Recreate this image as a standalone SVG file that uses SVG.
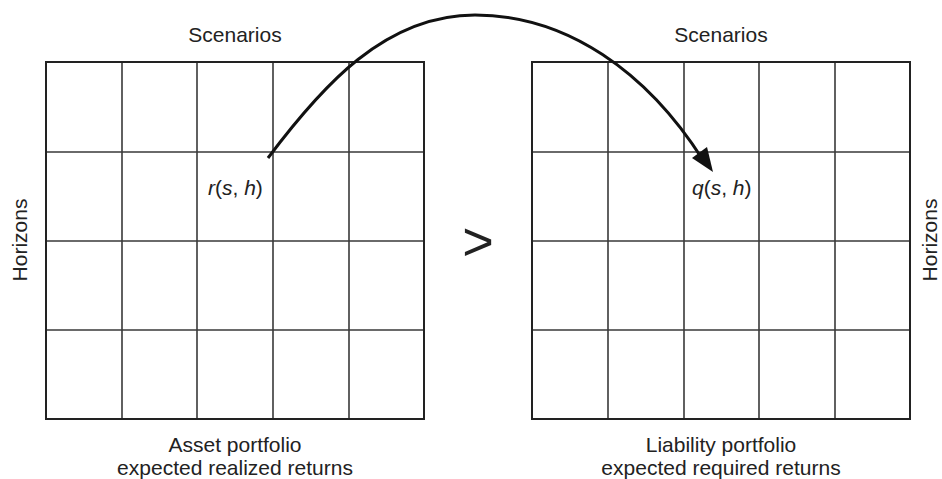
<svg xmlns="http://www.w3.org/2000/svg" width="942" height="479" viewBox="0 0 942 479">
<style>
.bg{fill:#fff}
.cell{fill:none;stroke:#3a3a3a;stroke-width:1.6}
.border{fill:none;stroke:#222;stroke-width:2}
.t{font-family:"Liberation Sans",Arial,sans-serif;font-size:21px;fill:#222}
.m{text-anchor:middle}
.conn{fill:none;stroke:#111;stroke-width:3}
.head{fill:#111}
</style>
<rect class="bg" x="0" y="0" width="942" height="479"/>
<g id="asset-grid">
  <path class="cell" d="M122,62V419M197,62V419M273,62V419M349,62V419M46,152H424M46,241H424M46,330H424"/>
  <rect class="border" x="46" y="62" width="378" height="357"/>
  <text class="t m" x="235" y="42">Scenarios</text>
  <text class="t m" transform="translate(27,240) rotate(-90)">Horizons</text>
  <text class="t" x="208" y="195"><tspan font-style="italic">r</tspan>(<tspan font-style="italic">s</tspan>, <tspan font-style="italic">h</tspan>)</text>
  <text class="t m" x="235" y="452">Asset portfolio</text>
  <text class="t m" x="235" y="475">expected realized returns</text>
</g>
<g id="liability-grid">
  <path class="cell" d="M608,62V419M684,62V419M759,62V419M835,62V419M532,152H910M532,241H910M532,330H910"/>
  <rect class="border" x="532" y="62" width="378" height="357"/>
  <text class="t m" x="721" y="42">Scenarios</text>
  <text class="t m" transform="translate(937,240) rotate(-90)">Horizons</text>
  <text class="t" x="692" y="195"><tspan font-style="italic">q</tspan>(<tspan font-style="italic">s</tspan>, <tspan font-style="italic">h</tspan>)</text>
  <text class="t m" x="721" y="452">Liability portfolio</text>
  <text class="t m" x="721" y="475">expected required returns</text>
</g>
<g id="comparison">
  <text class="t m" x="478" y="260" style="font-size:54px">&gt;</text>
</g>
<g id="connectors">
  <path class="conn" d="M268,158 C322,86 385,15 475,15 C567,15 647,72 703,160"/>
  <polygon class="head" points="713,172 692,158 707,147"/>
</g>
</svg>
